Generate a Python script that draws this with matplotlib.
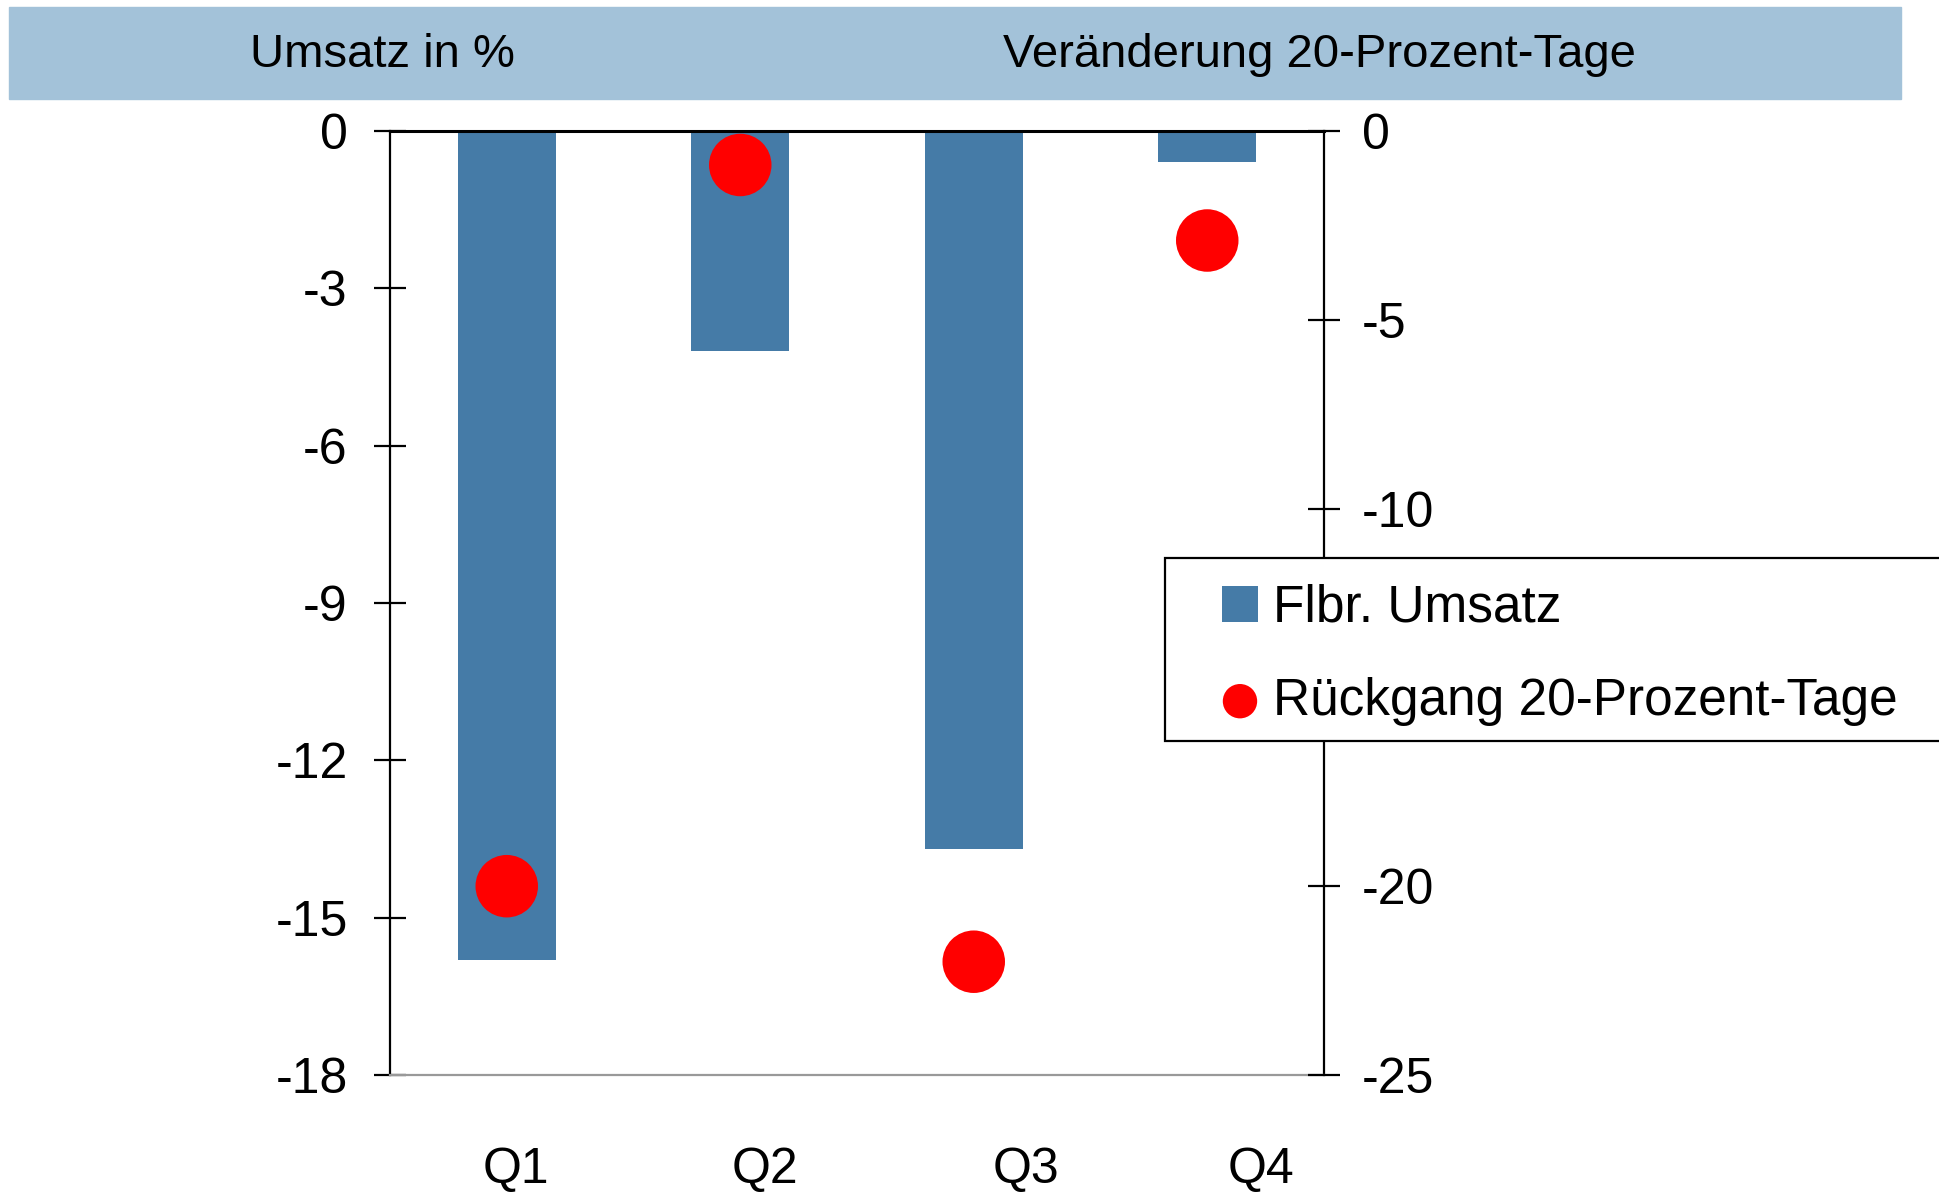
import matplotlib.pyplot as plt
from matplotlib.patches import Rectangle
import numpy as np

plt.rcParams['font.family'] = ['Liberation Sans', 'DejaVu Sans']
plt.rcParams['axes.unicode_minus'] = False

# data
quarters = ['Q1', 'Q2', 'Q3', 'Q4']
umsatz = [-15.8, -4.2, -13.7, -0.6]          # left axis, %
rueckgang = [-20.0, -0.9, -22.0, -2.9]       # right axis
left_ticks = [0, -3, -6, -9, -12, -15, -18]
right_ticks = [0, -5, -10, -15, -20, -25]
header_left = 'Umsatz in %'
header_right = 'Veränderung 20-Prozent-Tage'

bar_col = '#457BA7'
head_col = '#A3C2D9'
fs = 36

fig = plt.figure(figsize=(19.39, 11.94), dpi=100)
W, H = 1939, 1194

# header band
fig.patches.append(Rectangle((9 / W, 1 - 99 / H), (1901 - 9) / W, 92 / H,
                             transform=fig.transFigure, color=head_col, zorder=0))
fig.text(382 / W, 1 - 55 / H, header_left, fontsize=34, ha='center', va='center')
fig.text(1319 / W, 1 - 55 / H, header_right, fontsize=34, ha='center', va='center')

ax = fig.add_axes([390 / W, 1 - 1075 / H, (1324 - 390) / W, (1075 - 131) / H])
x = np.arange(len(quarters))
bars = ax.bar(x, umsatz, width=0.42, color=bar_col, label='Flbr. Umsatz', zorder=2)
ax.set_xlim(-0.5, 3.5)
ax.set_ylim(-18, 0)
ax.set_yticks(left_ticks)
ax.tick_params(axis='y', direction='inout', length=23, width=1.6, labelsize=fs, pad=19)
# x labels sit a bit right of the bars in the original
ax.set_xticks(x + np.array([0.04, 0.106, 0.224, 0.23]))
ax.set_xticklabels(quarters)
ax.tick_params(axis='x', length=0, labelsize=fs, pad=52)
for s in ['left', 'right']:
    ax.spines[s].set_linewidth(1.6)
ax.spines['top'].set_linewidth(2.2)
ax.spines['bottom'].set_color('#999999')
ax.spines['bottom'].set_linewidth(1.6)

ax2 = ax.twinx()
dots = ax2.scatter(x, rueckgang, s=2025, color='red', edgecolors='none',
                   label='Rückgang 20-Prozent-Tage', zorder=3)
ax2.set_ylim(-25, 0)
ax2.set_yticks(right_ticks)
ax2.tick_params(axis='y', direction='inout', length=23, width=1.6, labelsize=fs, pad=16)
for sp in ax2.spines.values():
    sp.set_visible(False)

# legend box, runs off the right edge
fig.patches.append(Rectangle((1165 / W, 1 - 741 / H), 800 / W, (741 - 558) / H,
                             transform=fig.transFigure, facecolor='white',
                             edgecolor='black', linewidth=1.6, zorder=5))
leg = fig.legend([bars, dots], [bars.get_label(), dots.get_label()],
                 loc='upper left', bbox_to_anchor=(1222 / W, 1 - 584 / H),
                 frameon=False, fontsize=37, borderpad=0, borderaxespad=0,
                 handlelength=0.7, handleheight=0.7, handletextpad=0.3,
                 labelspacing=0.85, markerscale=0.55)
leg.set_zorder(6)

fig.savefig('out.png', dpi=100)
